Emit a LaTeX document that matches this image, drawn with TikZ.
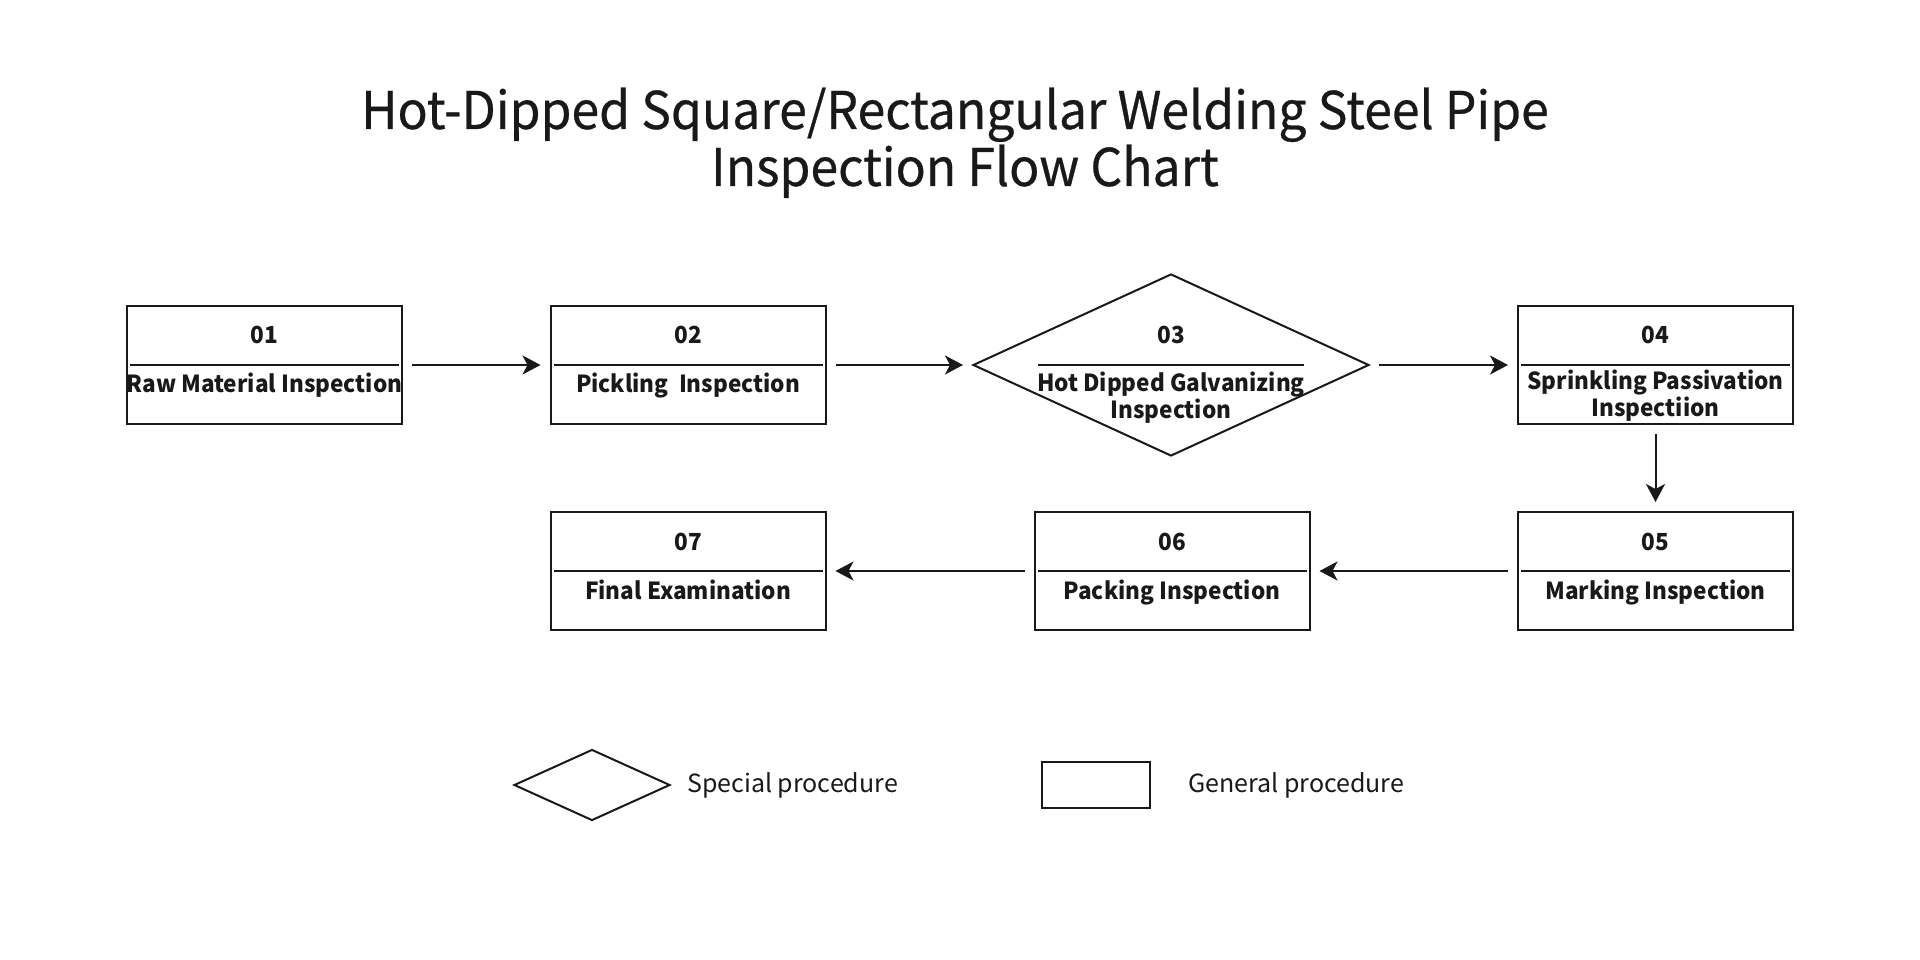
\documentclass[tikz,border=0pt]{standalone}
\usepackage{fontspec}
\setmainfont{Noto Sans CJK SC}
\newfontfamily\titlefont{Noto Sans CJK SC}[FakeBold=0.5, FakeStretch=0.96]
\newfontfamily\boxfont{Noto Sans CJK SC}[FakeStretch=0.96]
\usetikzlibrary{shapes.geometric,arrows.meta}
\begin{document}
\begin{tikzpicture}[x=1pt,y=-1pt,
  box/.style={draw=black!90, line width=2pt, minimum width=275pt, minimum height=118pt, inner sep=0pt},
  dia/.style={draw=black!90, diamond, line width=2pt, minimum width=396pt, minimum height=182pt, inner sep=0pt},
  num/.style={font=\boxfont\bfseries\fontsize{23.5}{27}\selectfont, anchor=base, inner sep=0pt, text=black!90},
  lab/.style={font=\boxfont\bfseries\fontsize{23.5}{27}\selectfont, align=center, anchor=base, inner sep=0pt, text=black!90},
  sep/.style={draw=black!90, line width=2pt},
  arr/.style={draw=black!90, -{Stealth[length=18pt,width=19pt,inset=5pt]}, line width=2pt, shorten <=9pt, shorten >=9pt},
  ttl/.style={font=\titlefont\fontsize{52}{60}\selectfont, anchor=base, inner sep=0pt, text=black!90},
  leg/.style={font=\fontsize{25}{30}\selectfont, anchor=base west, inner sep=0pt, text=black!90}]
\useasboundingbox (0,0) rectangle (1920,960);
\fill[white] (0,0) rectangle (1920,960);
% title
\node[ttl] (t1) at (955,129) {Hot-Dipped Square/Rectangular Welding Steel Pipe};
\node[ttl] (t2) at (965,186) {Inspection Flow Chart};
% row 1
\node[box] (b1) at (264.5,365) {};
\node[box] (b2) at (688,365) {};
\node[dia] (b3) at (1171,365) {};
\node[box] (b4) at (1655.5,365) {};
% row 2
\node[box] (b5) at (1655.5,571) {};
\node[box] (b6) at (1172,571) {};
\node[box] (b7) at (688,571) {};
% dividers
\foreach \n in {b1,b2,b4,b5,b6,b7}{
  \draw[sep] ([xshift=4pt]\n.west) -- ([xshift=-4pt]\n.east);
}
\draw[sep] ([xshift=-133pt]b3.center) -- ([xshift=133pt]b3.center);
% numbers
\node[num] (n1) at (264.5,343) {01};
\node[num] (n2) at (688,343) {02};
\node[num] (n3) at (1171,343) {03};
\node[num] (n4) at (1655.5,343) {04};
\node[num] (n5) at (1655.5,550) {05};
\node[num] (n6) at (1172,550) {06};
\node[num] (n7) at (688,550) {07};
% labels
\node[lab] (l1) at (264.5,392) {Raw Material Inspection};
\node[lab] (l2) at (688,392) {Pickling\ \ Inspection};
\node[lab] (l3) at (1171,418) {Hot Dipped Galvanizing\\Inspection};
\node[lab] (l4) at (1655.5,416) {Sprinkling Passivation\\Inspectiion};
\node[lab] (l5) at (1655.5,599) {Marking Inspection};
\node[lab] (l6) at (1172,599) {Packing Inspection};
\node[lab] (l7) at (688,599) {Final Examination};
% arrows
\draw[arr] (b1) -- (b2);
\draw[arr] (b2) -- (b3);
\draw[arr] (b3) -- (b4);
\draw[arr] (b4) -- (b5);
\draw[arr] (b5) -- (b6);
\draw[arr] (b6) -- (b7);
% legend
\node[dia, minimum width=156pt, minimum height=71pt] (ld) at (592,785) {};
\node[leg] (lt1) at (687,792) {Special procedure};
\node[box, minimum width=108pt, minimum height=46pt] (lr) at (1096,785) {};
\node[leg] (lt2) at (1188,792) {General procedure};
\end{tikzpicture}
\end{document}
